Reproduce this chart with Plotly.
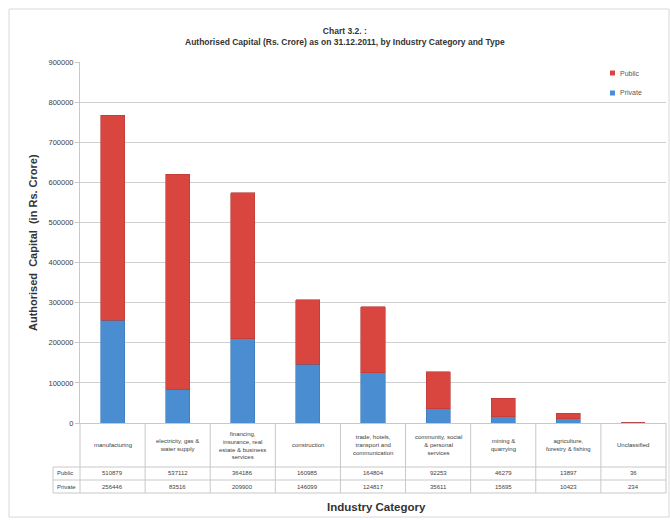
import plotly.graph_objects as go

# Industry categories (short names used as bar positions)
categories = [
    "manufacturing",
    "electricity, gas & water supply",
    "financing, insurance, real estate & business services",
    "construction",
    "trade, hotels, transport and communication",
    "community, social & personal services",
    "mining & quarrying",
    "agriculture, forestry & fishing",
    "Unclassified",
]

# Wrapped labels shown in the data table under the bars
category_labels = [
    "manufacturing",
    "electricity, gas &<br>water supply",
    "financing,<br>insurance, real<br>estate & business<br>services",
    "construction",
    "trade, hotels,<br>transport and<br>communication",
    "community, social<br>& personal<br>services",
    "mining &<br>quarrying",
    "agriculture,<br>forestry & fishing",
    "Unclassified",
]

# Authorised capital (Rs. Crore)
public = [510879, 537112, 364186, 160985, 164804, 92253, 46279, 13897, 36]
private = [256446, 83516, 209900, 146099, 124817, 35611, 15695, 10423, 234]

y_ticks = list(range(0, 900001, 100000))

W, H = 670, 520
L, R, T, B = 80, 4, 62, 97
PW, PH = W - L - R, H - T - B


def px(x):
    return (x - L) / PW


def py(y):
    return (H - B - y) / PH


RED = "#D9453F"
BLUE = "#4A8ED1"
GRID = "#D0D0D0"
TXT = "#404040"
FONT = "Liberation Sans"

fig = go.Figure()
fig.add_trace(go.Bar(
    x=categories, y=private, name="Private", marker_color=BLUE,
    marker_line=dict(color="#3B78B5", width=0.6), width=0.37, showlegend=False,
))
fig.add_trace(go.Bar(
    x=categories, y=public, name="Public", marker_color=RED,
    marker_line=dict(color="#B83A35", width=0.6), width=0.37, showlegend=False,
))

shapes = []
annotations = []
line_style = dict(color="#C8C8C8", width=1)
n = len(categories)

# Vertical dividers of the data table
for k in range(n + 1):
    shapes.append(dict(type="line", xref="paper", yref="paper",
                       x0=k / n, x1=k / n, y0=py(493), y1=py(423), line=line_style))
# Horizontal rows of the data table
for yy in (467, 480, 493):
    shapes.append(dict(type="line", xref="paper", yref="paper",
                       x0=px(53), x1=1, y0=py(yy), y1=py(yy), line=line_style))
shapes.append(dict(type="line", xref="paper", yref="paper",
                   x0=px(53), x1=px(53), y0=py(493), y1=py(467), line=line_style))
# Chart area frame
shapes.append(dict(type="rect", xref="paper", yref="paper",
                   x0=px(9), x1=px(669), y0=py(517), y1=py(9),
                   line=dict(color="#D8D8D8", width=1)))

# Legend: small colour keys with labels
for nm, col, yy in (("Public", RED, 73), ("Private", BLUE, 93)):
    shapes.append(dict(type="rect", xref="paper", yref="paper",
                       x0=px(610), x1=px(615), y0=py(yy + 2.5), y1=py(yy - 2.5),
                       fillcolor=col, line=dict(width=0)))
    annotations.append(dict(xref="paper", yref="paper", x=px(618), y=py(yy),
                            text=nm, showarrow=False, xanchor="left", yanchor="middle",
                            font=dict(size=7, color="#595959", family=FONT)))

for i, lab in enumerate(category_labels):
    xc = (i + 0.5) / n
    annotations.append(dict(xref="paper", yref="paper", x=xc, y=py(445),
                            text=lab, showarrow=False, xanchor="center", yanchor="middle",
                            font=dict(size=6, color=TXT, family=FONT)))
    annotations.append(dict(xref="paper", yref="paper", x=xc, y=py(473.5),
                            text=str(public[i]), showarrow=False, xanchor="center",
                            yanchor="middle", font=dict(size=6, color=TXT, family=FONT)))
    annotations.append(dict(xref="paper", yref="paper", x=xc, y=py(486.5),
                            text=str(private[i]), showarrow=False, xanchor="center",
                            yanchor="middle", font=dict(size=6, color=TXT, family=FONT)))
for lab, yy in (("Public", 473.5), ("Private", 486.5)):
    annotations.append(dict(xref="paper", yref="paper", x=px(55), y=py(yy), text=lab,
                            showarrow=False, xanchor="left", yanchor="middle",
                            font=dict(size=6, color=TXT, family=FONT)))

# Titles
annotations.append(dict(xref="paper", yref="paper", x=px(345), y=py(36),
                        text="<b>Chart 3.2. :</b><br><b>Authorised Capital (Rs. Crore) as on 31.12.2011, by Industry Category and Type</b>",
                        showarrow=False, xanchor="center", yanchor="middle",
                        font=dict(size=8.5, color="#333333", family=FONT)))
annotations.append(dict(xref="paper", yref="paper", x=px(376), y=py(507),
                        text="<b>Industry Category</b>", showarrow=False,
                        xanchor="center", yanchor="middle",
                        font=dict(size=11.5, color="#333333", family=FONT)))
annotations.append(dict(xref="paper", yref="paper", x=px(33), y=py(243),
                        text="<b>Authorised  Capital  (in Rs. Crore)</b>", showarrow=False,
                        textangle=-90, xanchor="center", yanchor="middle",
                        font=dict(size=11, color="#333333", family=FONT)))

fig.update_layout(
    width=W, height=H,
    margin=dict(l=L, r=R, t=T, b=B),
    paper_bgcolor="white", plot_bgcolor="white",
    barmode="stack",
    font=dict(family=FONT, color=TXT),
    shapes=shapes, annotations=annotations,
    showlegend=False,
)
fig.update_xaxes(
    type="category", range=[-0.5, n - 0.5], showticklabels=False,
    showgrid=False, showline=True, linecolor="#C8C8C8", ticks="", zeroline=False,
)
fig.update_yaxes(
    range=[0, 900000], tickvals=y_ticks, ticktext=[str(v) for v in y_ticks],
    showgrid=True, gridcolor=GRID, gridwidth=1,
    showline=True, linecolor="#C8C8C8", ticks="outside", ticklen=4, tickcolor="#C8C8C8",
    tickfont=dict(size=7.5, color=TXT, family=FONT), zeroline=False,
)

fig.write_html("out.html")
